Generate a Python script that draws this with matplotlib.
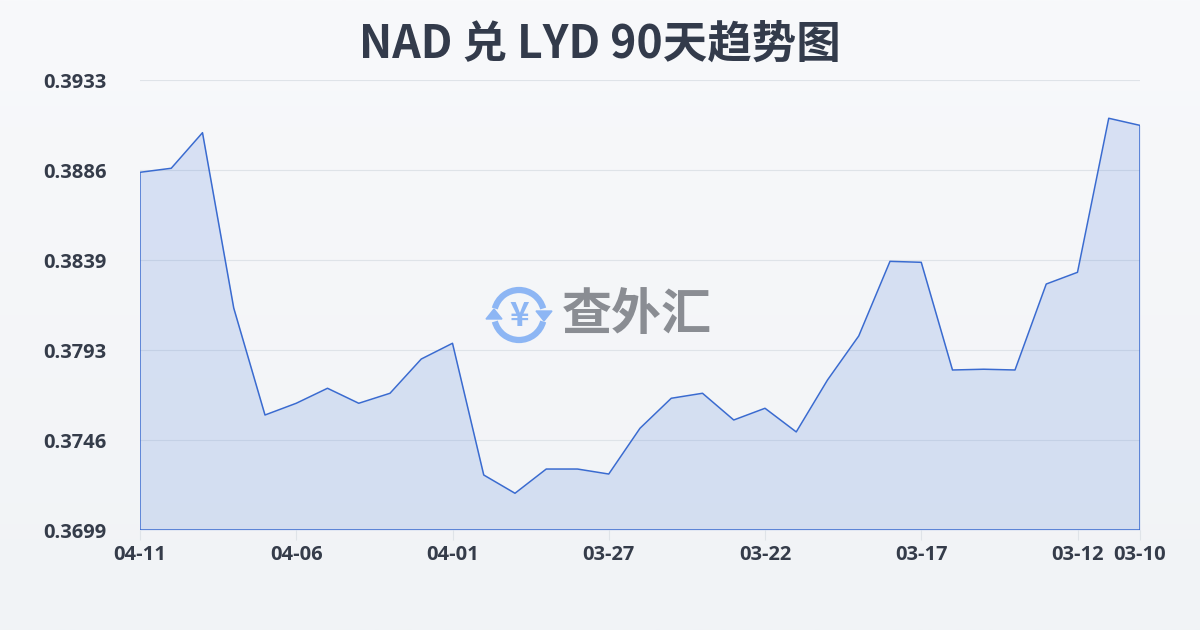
# NAD / LYD 90-day trend chart
import matplotlib
matplotlib.use("Agg")
import matplotlib.pyplot as plt
import matplotlib.patches as patches
from matplotlib.font_manager import FontProperties
import numpy as np
import pandas as pd

plt.rcParams['font.family'] = ['Noto Sans CJK SC', 'DejaVu Sans']

# DATA
# ----
# Daily rates, newest (04-11) on the left, oldest (03-10) on the right
dates = [d.strftime('%m-%d') for d in pd.date_range('2025-03-10', '2025-04-11')][::-1]
rates = [
    0.38850, 0.38871, 0.39056, 0.38144, 0.37588, 0.37649, 0.37727, 0.37649,
    0.37701, 0.37879, 0.37961, 0.37276, 0.37181, 0.37307, 0.37307, 0.37281,
    0.37519, 0.37675, 0.37701, 0.37562, 0.37623, 0.37500, 0.37770, 0.37999,
    0.38387, 0.38382, 0.37822, 0.37826, 0.37822, 0.38269, 0.38330, 0.39131,
    0.39094,
]
tick_idx = [0, 5, 10, 15, 20, 25, 30, 32]
y_min, y_max = 0.3699, 0.3933
title = 'NAD 兑 LYD 90天趋势图'

# FIGURE + BACKGROUND GRADIENT
# ----------------------------
fig = plt.figure(figsize=(12, 6.3), dpi=100)
bg = fig.add_axes([0, 0, 1, 1], zorder=-10)
grad = np.linspace(0, 1, 256).reshape(-1, 1)
top = np.array([248, 249, 251]) / 255
bot = np.array([241, 243, 246]) / 255
bg.imshow(top * (1 - grad[..., None]) + bot * grad[..., None], aspect='auto',
          extent=[0, 1, 0, 1])
bg.axis('off')

ax = fig.add_axes([140 / 1200, 1 - 530 / 630, 1000 / 1200, 450 / 630])
ax.patch.set_alpha(0)

x = np.arange(len(rates))
line_color = '#3a6bd0'
ax.fill_between(x, rates, y_min, color='#5b87dc', alpha=0.2, lw=0, zorder=2)
ax.plot(np.r_[x[0], x, x[-1]], np.r_[y_min, rates, y_min],
        color=line_color, lw=1.1, zorder=3)
ax.axhline(y_min, color=line_color, lw=1.1, zorder=3)

# AXES FORMATTING
# ---------------
ax.set_xlim(x[0], x[-1])
ax.set_ylim(y_min, y_max)
yt = np.linspace(y_min, y_max, 6)
ax.set_yticks(yt)
ax.set_yticklabels([f'{v:.4f}' for v in yt])
ax.set_xticks(tick_idx)
ax.set_xticklabels([dates[i] for i in tick_idx])
ax.grid(axis='y', color='#dfe3e8', lw=0.8, zorder=4)
for s in ax.spines.values():
    s.set_visible(False)
ax.tick_params(axis='y', length=0, pad=24, labelcolor='#353c4a')
ax.tick_params(axis='x', length=7, width=0.8, color='#dfe3e8', pad=4,
               labelcolor='#353c4a')
tick_font = FontProperties(family=['Open Sans', 'DejaVu Sans'], weight='bold', size=14.5)
for lbl in ax.get_xticklabels() + ax.get_yticklabels():
    lbl.set_fontproperties(tick_font)

fig.text(0.5, 1 - 45 / 630, title, ha='center', va='center', fontsize=32,
         fontweight='bold', color='#333b4b')

# WATERMARK
# ---------
wm = fig.add_axes([0, 0, 1, 1], zorder=5)
wm.set_xlim(0, 1200)
wm.set_ylim(630, 0)
wm.axis('off')
icon = '#8db6f4'
cx, cy, r = 519, 315, 25
wm.add_patch(patches.Arc((cx, cy), 2 * r, 2 * r, theta1=195, theta2=345,
                         color=icon, lw=4.5))
wm.add_patch(patches.Arc((cx, cy), 2 * r, 2 * r, theta1=15, theta2=165,
                         color=icon, lw=4.5))
wm.add_patch(patches.Polygon([[cx + r - 8, cy - 4], [cx + r + 8, cy - 4],
                              [cx + r, cy + 6]], color=icon))
wm.add_patch(patches.Polygon([[cx - r - 8, cy + 4], [cx - r + 8, cy + 4],
                              [cx - r, cy - 6]], color=icon))
wm.text(cx, cy + 1, '¥', ha='center', va='center', fontsize=24,
        fontweight='bold', color=icon)
wm.text(562, 315, '查外汇', ha='left', va='center', fontsize=36,
        fontweight='bold', color='#8a8d93')

fig.savefig('out.png', dpi=100)
